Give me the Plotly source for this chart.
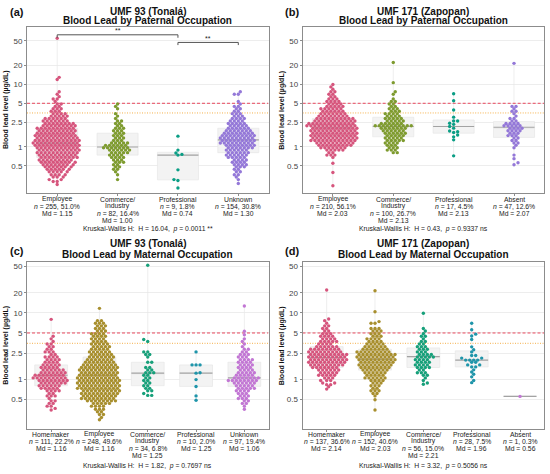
#blood lead by parental occupation - 4 beeswarm panels
import numpy as np
import plotly.graph_objects as go

W, H = 550, 474
FONT = "Liberation Sans"

#%% data - (a) UMF 93 (Tonala), paternal occupation
a_names = [["Employee"], ["Commerce/", "Industry"], ["Professional"], ["Unknown"]]
a_n = [255, 82, 9, 154]
a_pct = ["51.0", "16.4", "1.8", "30.8"]
a_md = [1.15, 1.00, 0.74, 1.30]
a_kw = ("16.04", "0.0011 **")

a_emp_lv = [0.25, 0.28, 0.30, 0.33, 0.36, 0.40, 0.44, 0.48, 0.52, 0.57, 0.62, 0.68, 0.74, 0.81, 0.89, 0.97, 1.06,
            1.16, 1.27, 1.39, 1.52, 1.66, 1.82, 1.99, 2.18, 2.38, 2.60, 2.85, 3.12, 3.41, 3.73, 4.08, 4.46, 4.88,
            5.34, 5.84, 6.39, 6.99, 7.65, 12.0, 13.0, 55.0]
a_emp_ct = [1, 2, 2, 3, 4, 5, 6, 7, 8, 9, 9, 10, 10, 11, 11, 11, 12, 12, 12, 11, 11, 10, 10, 10, 9, 8, 7, 6, 5, 4,
            3, 3, 2, 2, 1, 2, 1, 1, 1, 1, 1, 1]
a_com_lv = [0.30, 0.36, 0.40, 0.44, 0.48, 0.52, 0.57, 0.62, 0.68, 0.74, 0.81, 0.89, 0.97, 1.06, 1.16, 1.27, 1.39,
            1.52, 1.66, 1.82, 1.99, 2.18, 2.38, 2.60, 2.85, 3.12, 3.41, 4.08, 4.46, 4.88]
a_com_ct = [1, 1, 1, 2, 2, 2, 3, 3, 4, 4, 5, 6, 7, 6, 5, 3, 3, 3, 3, 3, 3, 2, 2, 2, 1, 1, 1, 1, 1, 1]
a_pro_lv = [0.22, 0.29, 0.30, 0.43, 0.74, 0.76, 0.80, 0.89, 1.49]
a_pro_ct = [1, 1, 1, 1, 1, 1, 1, 1, 1]
a_unk_lv = [0.26, 0.30, 0.33, 0.36, 0.40, 0.44, 0.48, 0.52, 0.57, 0.62, 0.68, 0.74, 0.81, 0.89, 0.97, 1.06, 1.16,
            1.27, 1.39, 1.52, 1.66, 1.82, 1.99, 2.18, 2.38, 2.60, 2.85, 3.12, 3.41, 3.73, 4.08, 4.46, 4.88, 5.34,
            6.99, 7.65]
a_unk_ct = [1, 1, 1, 2, 2, 2, 3, 4, 4, 4, 5, 6, 6, 6, 7, 8, 9, 9, 9, 9, 8, 7, 6, 5, 5, 4, 4, 3, 3, 2, 2, 2, 1, 1,
            2, 1]

#%% (b) UMF 171 (Zapopan), paternal occupation
b_names = [["Employee"], ["Commerce/", "Industry"], ["Professional"], ["Absent"]]
b_n = [210, 100, 17, 47]
b_pct = ["56.1", "26.7", "4.5", "12.6"]
b_md = [2.03, 2.13, 2.13, 2.07]
b_kw = ("0.43", "0.9337 ns")

b_emp_lv = [0.24, 0.39, 0.55, 0.68, 0.74, 0.81, 0.89, 0.97, 1.06, 1.16, 1.27, 1.39, 1.52, 1.66, 1.82, 1.99, 2.18,
            2.38, 2.60, 2.85, 3.12, 3.41, 3.73, 4.08, 4.46, 4.88, 5.34, 5.84, 6.39, 6.99, 7.65, 8.37, 9.15, 10.0]
b_emp_ct = [1, 1, 1, 1, 3, 2, 5, 7, 9, 10, 12, 12, 12, 12, 12, 12, 13, 12, 11, 10, 8, 7, 6, 6, 5, 4, 4, 3, 2, 2,
            2, 1, 1, 1]
b_com_lv = [0.81, 0.89, 0.97, 1.06, 1.16, 1.27, 1.39, 1.52, 1.66, 1.82, 1.99, 2.18, 2.38, 2.60, 2.85, 3.12, 3.41,
            3.73, 4.08, 4.46, 4.88, 5.34, 5.84, 6.99, 7.65, 10.7, 22.5]
b_com_ct = [2, 3, 3, 3, 4, 5, 5, 5, 6, 6, 7, 10, 6, 5, 5, 4, 4, 3, 3, 2, 2, 2, 1, 1, 1, 1, 1]
b_pro_lv = [0.72, 1.30, 1.45, 1.55, 1.70, 1.75, 1.80, 2.00, 2.13, 2.30, 2.40, 2.60, 3.00, 3.90, 5.50, 7.10]
b_pro_ct = [1, 1, 1, 1, 1, 1, 1, 1, 1, 1, 1, 2, 1, 1, 1, 1]
b_abs_lv = [0.52, 0.56, 0.65, 0.74, 0.97, 1.06, 1.16, 1.27, 1.39, 1.52, 1.66, 1.82, 1.99, 2.18, 2.38, 2.60, 2.85,
            3.12, 3.41, 3.73, 4.08, 4.46, 21.8]
b_abs_ct = [1, 1, 1, 1, 1, 1, 2, 2, 2, 3, 3, 4, 4, 5, 4, 2, 2, 1, 1, 2, 1, 2, 1]

#%% (c) UMF 93 (Tonala), maternal occupation
c_names = [["Homemaker"], ["Employee"], ["Commerce/", "Industry"], ["Professional"], ["Unknown"]]
c_n = [111, 248, 34, 10, 97]
c_pct = ["22.2", "49.6", "6.8", "2.0", "19.4"]
c_md = [1.16, 1.16, 1.25, 1.25, 1.06]
c_kw = ("1.82", "0.7697 ns")

c_hom_lv = [0.35, 0.37, 0.40, 0.44, 0.48, 0.52, 0.57, 0.62, 0.68, 0.74, 0.81, 0.89, 0.97, 1.06, 1.16, 1.27, 1.39,
            1.52, 1.66, 1.82, 1.99, 2.18, 2.38, 2.60, 2.85, 3.12, 3.41, 3.73, 4.08, 4.46, 8.0]
c_hom_ct = [1, 1, 2, 2, 2, 1, 3, 2, 4, 5, 6, 7, 8, 9, 8, 7, 6, 5, 5, 4, 4, 4, 2, 3, 2, 2, 2, 1, 1, 1, 1]
c_emp_lv = [0.25, 0.27, 0.30, 0.33, 0.36, 0.40, 0.44, 0.48, 0.52, 0.57, 0.62, 0.68, 0.74, 0.81, 0.89, 0.97, 1.06,
            1.16, 1.27, 1.39, 1.52, 1.66, 1.82, 1.99, 2.18, 2.38, 2.60, 2.85, 3.12, 3.41, 3.73, 4.08, 4.46, 4.88,
            5.34, 5.84, 6.39, 6.99, 7.65, 11.7]
c_emp_ct = [1, 1, 2, 2, 3, 4, 5, 8, 9, 9, 10, 10, 11, 11, 11, 11, 11, 10, 10, 10, 10, 9, 8, 7, 7, 6, 6, 5, 5, 5,
            4, 4, 4, 4, 3, 3, 3, 3, 2, 1]
c_com_lv = [0.58, 0.62, 0.68, 0.74, 0.81, 0.89, 0.97, 1.06, 1.16, 1.27, 1.39, 1.52, 1.82, 2.18, 2.38, 2.60, 3.73,
            4.00, 51.7]
c_com_ct = [2, 1, 2, 2, 2, 2, 2, 2, 2, 3, 2, 2, 2, 1, 2, 2, 1, 1, 1]
c_pro_lv = [0.49, 0.57, 0.79, 1.00, 1.25, 1.27, 1.66, 2.60]
c_pro_ct = [1, 1, 1, 1, 1, 1, 3, 1]
c_unk_lv = [0.36, 0.40, 0.44, 0.48, 0.52, 0.57, 0.62, 0.68, 0.74, 0.81, 0.89, 0.97, 1.06, 1.16, 1.27, 1.39, 1.52,
            1.66, 1.82, 1.99, 2.18, 2.38, 2.60, 2.85, 3.12, 3.41, 3.73, 4.08, 4.70, 5.30, 12.7]
c_unk_ct = [1, 1, 2, 2, 3, 3, 3, 4, 5, 5, 6, 8, 7, 5, 5, 4, 4, 4, 4, 4, 3, 3, 2, 2, 1, 1, 1, 1, 1, 1, 1]

#%% (d) UMF 171 (Zapopan), maternal occupation
d_names = [["Homemaker"], ["Employee"], ["Commerce/", "Industry"], ["Professional"], ["Absent"]]
d_n = [137, 152, 56, 28, 1]
d_pct = ["36.6", "40.6", "15.0", "7.5", "0.3"]
d_md = [2.14, 2.03, 2.21, 1.96, 0.56]
d_kw = ("3.32", "0.5056 ns")

d_hom_lv = [0.72, 0.78, 0.84, 0.89, 0.97, 1.06, 1.16, 1.27, 1.39, 1.52, 1.66, 1.82, 1.99, 2.18, 2.38, 2.60, 2.85,
            3.12, 3.41, 3.73, 4.08, 4.46, 4.88, 5.34, 5.84, 6.39, 6.99, 7.65, 8.10, 22.0]
d_hom_ct = [1, 1, 2, 2, 3, 3, 5, 5, 6, 7, 9, 10, 10, 10, 10, 9, 8, 6, 4, 5, 4, 4, 3, 2, 2, 2, 1, 1, 1, 1]
d_emp_lv = [0.35, 0.50, 0.57, 0.62, 0.68, 0.74, 0.81, 0.89, 0.97, 1.06, 1.16, 1.27, 1.39, 1.52, 1.66, 1.82, 1.99,
            2.18, 2.38, 2.60, 2.85, 3.12, 3.41, 3.73, 4.08, 4.46, 4.88, 5.34, 5.84, 7.00, 7.40, 10.4, 21.5]
d_emp_ct = [1, 1, 1, 2, 3, 2, 3, 3, 4, 6, 5, 6, 7, 8, 9, 9, 10, 10, 10, 9, 7, 6, 5, 4, 4, 3, 3, 3, 3, 2, 1, 1, 1]
d_com_lv = [0.85, 0.89, 0.97, 1.06, 1.16, 1.27, 1.39, 1.52, 1.66, 1.82, 1.99, 2.18, 2.38, 2.60, 2.85, 3.12, 3.41,
            3.73, 4.08, 4.46, 4.88, 5.34, 5.84, 9.9]
d_com_ct = [1, 1, 1, 1, 2, 3, 2, 4, 4, 4, 4, 5, 4, 3, 3, 3, 2, 2, 1, 2, 1, 1, 1, 1]
d_pro_lv = [0.90, 0.97, 1.10, 1.20, 1.30, 1.40, 1.55, 1.66, 1.82, 1.96, 2.10, 2.30, 2.60, 2.80, 3.10, 4.00, 4.50,
            4.80, 5.60, 7.00]
d_pro_ct = [1, 1, 1, 1, 1, 1, 2, 2, 2, 4, 2, 2, 1, 1, 1, 1, 1, 1, 1, 1]
d_abs_lv = [0.56]
d_abs_ct = [1]

y_ticks = [0.5, 1, 2.5, 5, 10, 20, 50]
ref_lines = [5, 3.5]   # reference levels (ug/dL)

col_pat = ["#D6557D", "#7E9B2F", "#0A9E85", "#9478D8"]
col_mat = ["#D6557D", "#A88F2E", "#17A07A", "#1F95AA", "#C277D4"]


#%% helpers
def expand(lv, ct):
    return np.repeat(np.array(lv, dtype=float), ct)


def swarm(vals, ppd, step=2.0, d=2.9):
    # greedy beeswarm on a half-step lattice (px); gives hex-like packing
    ys = np.log10(vals) * ppd
    order = np.argsort(ys, kind="stable")
    px, py = [], []
    out = np.zeros(len(vals))
    for k, idx in enumerate(order):
        y = ys[idx]
        nb = [(a, b) for a, b in zip(px, py) if abs(b - y) < d]
        sgn = 1 if k % 2 else -1
        for m in range(0, 60):
            done = False
            for s in ([0] if m == 0 else [sgn, -sgn]):
                c = s * m * step
                if all((c - a) ** 2 + (y - b) ** 2 >= d * d - 1e-6 for a, b in nb):
                    out[idx] = c
                    done = True
                    break
            if done:
                break
        px.append(out[idx])
        py.append(y)
    return out


panels = [
    dict(tag="(a)", t1="UMF 93 (Tonalá)", t2="Blood Lead by Paternal Occupation",
         names=a_names, n=a_n, pct=a_pct, md=a_md, kw=a_kw, cols=col_pat,
         groups=[(a_emp_lv, a_emp_ct), (a_com_lv, a_com_ct), (a_pro_lv, a_pro_ct), (a_unk_lv, a_unk_ct)],
         box=(27, 268.5, 27, 193), ylog=(-0.737, 1.92), lab_y=199.3, kw_y=229, tag_xy=(16.5, 12.3),
         t_y=(11.2, 20.9)),
    dict(tag="(b)", t1="UMF 171 (Zapopan)", t2="Blood Lead by Paternal Occupation",
         names=b_names, n=b_n, pct=b_pct, md=b_md, kw=b_kw, cols=col_pat,
         groups=[(b_emp_lv, b_emp_ct), (b_com_lv, b_com_ct), (b_pro_lv, b_pro_ct), (b_abs_lv, b_abs_ct)],
         box=(302.7, 544.2, 27, 193), ylog=(-0.737, 1.92), lab_y=199.3, kw_y=229, tag_xy=(291.7, 12.3),
         t_y=(11.2, 20.9)),
    dict(tag="(c)", t1="UMF 93 (Tonalá)", t2="Blood Lead by Maternal Occupation",
         names=c_names, n=c_n, pct=c_pct, md=c_md, kw=c_kw, cols=col_mat,
         groups=[(c_hom_lv, c_hom_ct), (c_emp_lv, c_emp_ct), (c_com_lv, c_com_ct), (c_pro_lv, c_pro_ct),
                 (c_unk_lv, c_unk_ct)],
         box=(27, 268.5, 262, 429.3), ylog=(-0.745, 1.763), lab_y=434.2, kw_y=465.5, tag_xy=(17.5, 251),
         t_y=(243.5, 254.3)),
    dict(tag="(d)", t1="UMF 171 (Zapopan)", t2="Blood Lead by Maternal Occupation",
         names=d_names, n=d_n, pct=d_pct, md=d_md, kw=d_kw, cols=col_mat,
         groups=[(d_hom_lv, d_hom_ct), (d_emp_lv, d_emp_ct), (d_com_lv, d_com_ct), (d_pro_lv, d_pro_ct),
                 (d_abs_lv, d_abs_ct)],
         box=(302.5, 544.2, 262, 429.3), ylog=(-0.745, 1.763), lab_y=434.2, kw_y=465.5, tag_xy=(292, 251),
         t_y=(243.5, 254.3)),
]

fig = go.Figure()
ann = []


def txt(x, y, s, size=6.8, bold=False, xref="paper", color="#222222"):
    if bold:
        s = "<b>" + s + "</b>"
    ann.append(dict(x=x if xref != "paper" else x / W, y=1 - y / H, xref=xref, yref="paper", text=s,
                    showarrow=False, xanchor="center", yanchor="middle",
                    font=dict(family=FONT, size=size, color=color)))


for p_i, p in enumerate(panels):
    sfx = "" if p_i == 0 else str(p_i + 1)
    xa, ya = "x" + sfx, "y" + sfx
    left, right, top, bottom = p["box"]
    k = len(p["groups"])
    ppu = (right - left) / k
    ppd = (bottom - top) / (p["ylog"][1] - p["ylog"][0])

    for i, (lv, ct) in enumerate(p["groups"]):
        vals = expand(lv, ct)
        fig.add_trace(go.Box(y=vals, x=[i] * len(vals), width=0.68, boxpoints=False, fillcolor="#F3F3F3",
                             line=dict(color="#E6E6E6", width=0.7), whiskerwidth=0, xaxis=xa, yaxis=ya,
                             hoverinfo="skip", showlegend=False))
        fig.add_trace(go.Scatter(x=[i - 0.34, i + 0.34], y=[p["md"][i]] * 2, mode="lines",
                                 line=dict(color="#A3A3A3", width=1.1), xaxis=xa, yaxis=ya,
                                 hoverinfo="skip", showlegend=False))

    for lvl, colr, dash in zip(ref_lines, ["#E8485E", "#F5B04A"], ["3px,2px", "1px,1.5px"]):
        fig.add_trace(go.Scatter(x=[-0.5, k - 0.5], y=[lvl, lvl], mode="lines",
                                 line=dict(color=colr, width=1, dash=dash), xaxis=xa, yaxis=ya,
                                 hoverinfo="skip", showlegend=False))

    for i, (lv, ct) in enumerate(p["groups"]):
        vals = expand(lv, ct)
        off = swarm(vals, ppd)
        fig.add_trace(go.Scatter(x=i + off / ppu, y=vals, mode="markers",
                                 marker=dict(size=3.4, color=p["cols"][i], line=dict(width=0)),
                                 xaxis=xa, yaxis=ya, hoverinfo="y", showlegend=False))

    fig.layout["xaxis" + sfx] = dict(domain=[left / W, right / W], range=[-0.5, k - 0.5], anchor=ya,
                                     showgrid=False, zeroline=False, showline=True, mirror=True,
                                     linecolor="#8C8C8C", linewidth=1, ticks="outside", ticklen=2,
                                     tickcolor="#8C8C8C", tickvals=list(range(k)), showticklabels=False)
    fig.layout["yaxis" + sfx] = dict(domain=[1 - bottom / H, 1 - top / H], type="log", range=list(p["ylog"]),
                                     anchor=xa, showgrid=True, gridcolor="#EDEDED", gridwidth=0.6,
                                     zeroline=False, showline=True, mirror=True, linecolor="#8C8C8C",
                                     linewidth=1, ticks="outside", ticklen=2, tickcolor="#8C8C8C",
                                     tickvals=y_ticks, ticktext=[f"{v:g}" for v in y_ticks],
                                     tickfont=dict(family=FONT, size=8, color="#444444"))

    # category labels
    for i in range(k):
        lines = p["names"][i] + [f"<i>n</i> = {p['n'][i]}, {p['pct'][i]}%", f"Md = {p['md'][i]:.2f}"]
        for j, s in enumerate(lines):
            txt(i, p["lab_y"] + j * 7.2, s, xref=xa)
    cx = (left + right) / 2
    txt(cx, p["kw_y"], f"Kruskal-Wallis H:\u00a0\u00a0H = {p['kw'][0]},\u00a0\u00a0<i>p</i> = {p['kw'][1]}",
        size=6.8)
    txt(cx, p["t_y"][0], p["t1"], size=10, bold=True, color="#111111")
    txt(cx, p["t_y"][1], p["t2"], size=10, bold=True, color="#111111")
    txt(p["tag_xy"][0], p["tag_xy"][1], p["tag"], size=11, bold=True, color="#111111")
    ann.append(dict(x=(left - 21) / W, y=1 - (top + bottom) / 2 / H, xref="paper", yref="paper",
                    text="<b>Blood lead level (µg/dL)</b>", textangle=-90, showarrow=False,
                    xanchor="center", yanchor="middle", font=dict(family=FONT, size=7, color="#111111")))

# significance brackets, panel (a)
for xs, ys in [([0, 0, 2, 2], [55.9, 62.4, 62.4, 55.9]), ([2, 2, 3, 3], [42.7, 47.1, 47.1, 42.7])]:
    fig.add_trace(go.Scatter(x=xs, y=ys, mode="lines", line=dict(color="#555555", width=1),
                             xaxis="x", yaxis="y", hoverinfo="skip", showlegend=False, cliponaxis=False))
txt(1, 31, "**", xref="x", size=7)
txt(2.5, 38.5, "**", xref="x", size=7)

fig.update_layout(width=W, height=H, margin=dict(l=0, r=0, t=0, b=0), plot_bgcolor="white",
                  paper_bgcolor="white", annotations=ann, showlegend=False,
                  font=dict(family=FONT, color="#222222"))
fig.write_html("out.html", config={"displayModeBar": False},
               post_script="document.body.style.margin='0px';")
